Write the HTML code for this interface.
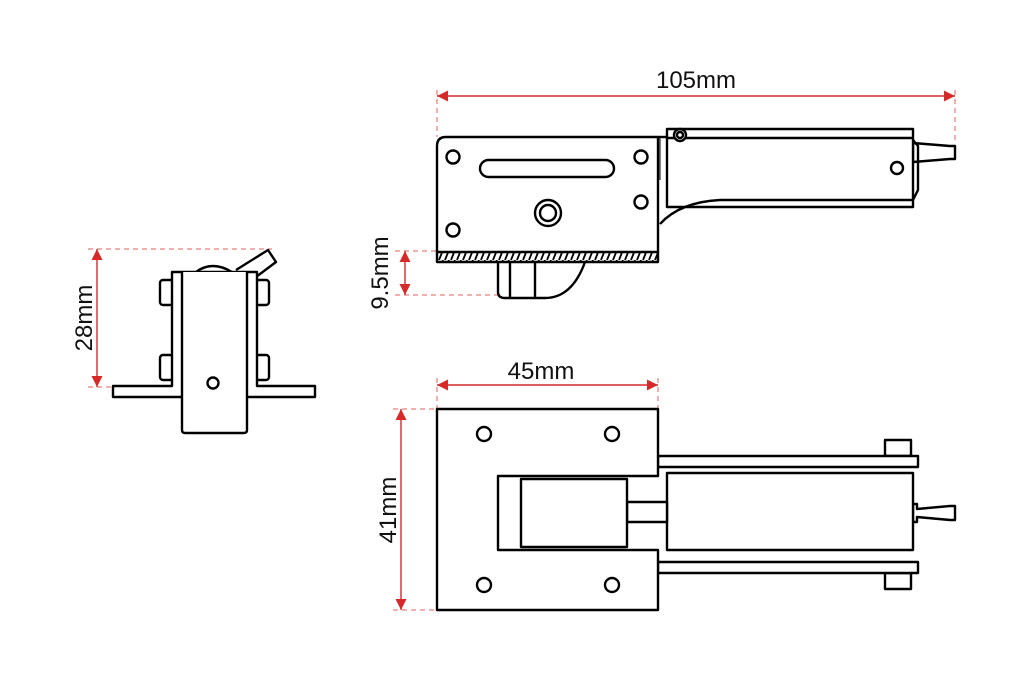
<!DOCTYPE html>
<html><head><meta charset="utf-8"><style>html,body{margin:0;padding:0;background:#fff}svg{display:block}</style></head>
<body>
<svg width="1024" height="682" viewBox="0 0 1024 682" xmlns="http://www.w3.org/2000/svg">
<defs>
<marker id="a" viewBox="0 0 10 10" refX="10" refY="5" markerWidth="14" markerHeight="11" markerUnits="userSpaceOnUse" orient="auto-start-reverse"><path d="M0,0L10,5L0,10z" fill="#d62a2a"/></marker>
<pattern id="h" width="6" height="10" patternUnits="userSpaceOnUse"><line x1="5" y1="0" x2="1" y2="10" stroke="#000" stroke-width="1.8"/></pattern>
</defs>
<g stroke="#e06060" stroke-width="1" stroke-dasharray="5,4" fill="none">
<line x1="437" y1="90" x2="437" y2="137"/><line x1="955" y1="90" x2="955" y2="143"/>
<line x1="395" y1="251" x2="437" y2="251"/><line x1="395" y1="295" x2="500" y2="295"/>
<line x1="88" y1="249" x2="272" y2="249"/><line x1="88" y1="387" x2="113" y2="387"/>
<line x1="437" y1="378" x2="437" y2="409"/><line x1="658" y1="378" x2="658" y2="409"/>
<line x1="393" y1="409" x2="437" y2="409"/><line x1="393" y1="610" x2="437" y2="610"/>
</g>
<g stroke="#d62a2a" stroke-width="1.4" fill="none">
<line x1="437" y1="96" x2="955" y2="96" marker-start="url(#a)" marker-end="url(#a)"/>
<line x1="405" y1="251" x2="405" y2="295" marker-start="url(#a)" marker-end="url(#a)"/>
<line x1="97" y1="249" x2="97" y2="387" marker-start="url(#a)" marker-end="url(#a)"/>
<line x1="437" y1="385" x2="658" y2="385" marker-start="url(#a)" marker-end="url(#a)"/>
<line x1="401" y1="409" x2="401" y2="610" marker-start="url(#a)" marker-end="url(#a)"/>
</g>
<g font-family="Liberation Sans, sans-serif" font-size="24" fill="#111">
<text x="696" y="88" text-anchor="middle">105mm</text>
<text x="541" y="379" text-anchor="middle">45mm</text>
<text transform="translate(388,273) rotate(-90)" text-anchor="middle">9.5mm</text>
<text transform="translate(92,318) rotate(-90)" text-anchor="middle">28mm</text>
<text transform="translate(396,510) rotate(-90)" text-anchor="middle">41mm</text>
</g>
<g stroke="#000" stroke-width="2.4" fill="#fff" stroke-linejoin="round">
<path d="M913,143 L950,146 L955,146 L955,159 L950,159 L913,162z"/>
<path d="M667,129 L913,129 L913,207 L667,207z"/>
<line x1="667" y1="138" x2="913" y2="138"/>
<path d="M660,224 Q680,202 720,200 L913,200" fill="none"/>
<path d="M913,140 L918,146 L918,190 L913,200" fill="none"/>
<circle cx="897" cy="168" r="6"/>
<path d="M498,262 L498,292 Q498,298 505,298 L545,298 Q572,298 585,262"/>
<line x1="510" y1="262" x2="510" y2="298"/><line x1="535" y1="262" x2="535" y2="298"/>
<path d="M446,137 L658,137 L658,262 L437,262 L437,146 Q437,137 446,137z"/>
<rect x="438" y="252" width="219" height="10" fill="url(#h)" stroke="none"/>
<line x1="437" y1="252" x2="658" y2="252"/>
<line x1="658" y1="137" x2="667" y2="137"/>
<line x1="660" y1="137" x2="660" y2="180" stroke-width="1"/>
<rect x="480" y="160" width="134" height="17" rx="8.5"/>
<circle cx="453" cy="157" r="6.5"/><circle cx="641" cy="157" r="6.5"/>
<circle cx="453" cy="230" r="6.5"/><circle cx="641" cy="202" r="6.5"/>
<circle cx="548" cy="213" r="13"/><circle cx="548" cy="213" r="8"/>
<circle cx="680" cy="135" r="6"/><circle cx="680" cy="135" r="3"/>
<rect x="885" y="440" width="26" height="16"/><rect x="885" y="573" width="26" height="16"/>
<rect x="658" y="456" width="260" height="11"/><rect x="658" y="562" width="260" height="11"/>
<path d="M913,504 L917,504 L917,509 L950,506 L955,506 L955,520 L950,520 L917,517 L917,522 L913,522z"/>
<rect x="667" y="473" width="246" height="77"/>
<rect x="627" y="502" width="40" height="20"/>
<path d="M437,409 L658,409 L658,476 L498,476 L498,550 L658,550 L658,610 L437,610z"/>
<rect x="521" y="479" width="106" height="68"/>
<circle cx="484" cy="434" r="7"/><circle cx="612" cy="434" r="7"/>
<circle cx="484" cy="585" r="7"/><circle cx="612" cy="585" r="7"/>
<path d="M196,272 Q212,260 232,272" fill="#fff"/>
<path d="M236,270 L268,250 L276,262 L248,283" />
<rect x="160" y="280" width="13" height="25" rx="3"/><rect x="160" y="355" width="13" height="25" rx="3"/>
<rect x="256" y="280" width="13" height="25" rx="3"/><rect x="256" y="355" width="13" height="25" rx="3"/>
<path d="M113,386 L172,386 L172,272 L257,272 L257,386 L315,386 L315,397 L113,397z"/>
<path d="M182,272 L182,430 Q182,433 185,433 L244,433 Q247,433 247,430 L247,272"/>
<circle cx="213" cy="383" r="5.5"/>
</g>
</svg>
</body></html>
